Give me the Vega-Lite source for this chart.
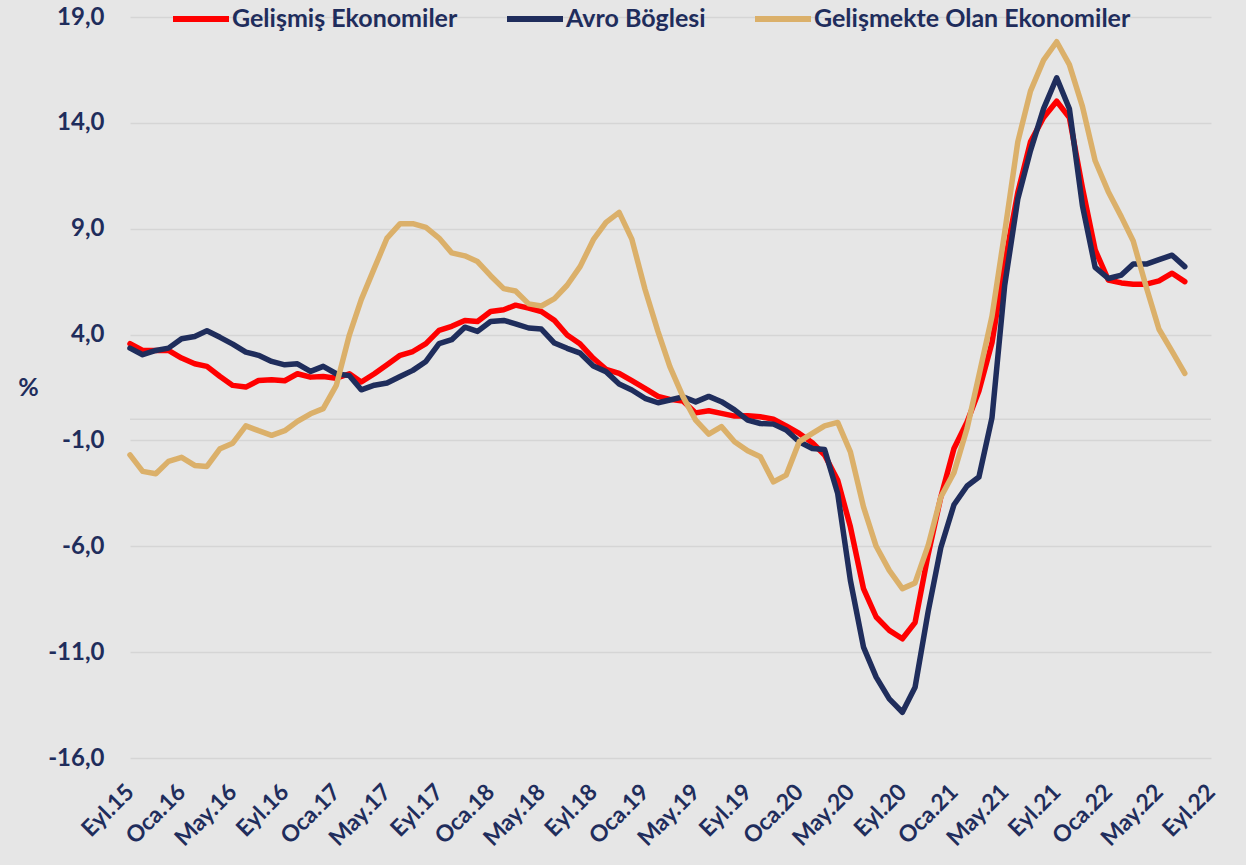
{
  "$schema": "https://vega.github.io/schema/vega-lite/v6.json",
  "autosize": {"type": "none"},
  "padding": {"left": 130, "top": 17, "right": 35, "bottom": 107},
  "width": 1081,
  "height": 741,
  "background": "#e6e6e6",
  "config": {
    "view": {"stroke": null},
    "font": "Lato"
  },
  "layer": [
    {
      "data": {"values": [{"z": 0}]},
      "mark": {"type": "rule", "color": "#d5d5d5", "strokeWidth": 1.5},
      "encoding": {"y": {"field": "z", "type": "quantitative", "scale": {"domain": [-16, 19], "nice": false, "zero": false}}}
    },
    {
      "data": {
        "values": [
          {"d": "2015-09-01", "g": 3.57, "a": 3.36, "e": -1.68},
          {"d": "2015-10-01", "g": 3.25, "a": 3.05, "e": -2.46},
          {"d": "2015-11-01", "g": 3.25, "a": 3.25, "e": -2.57},
          {"d": "2015-12-01", "g": 3.25, "a": 3.36, "e": -1.99},
          {"d": "2016-01-01", "g": 2.89, "a": 3.80, "e": -1.80},
          {"d": "2016-02-01", "g": 2.62, "a": 3.91, "e": -2.18},
          {"d": "2016-03-01", "g": 2.50, "a": 4.18, "e": -2.23},
          {"d": "2016-04-01", "g": 2.02, "a": 3.87, "e": -1.39},
          {"d": "2016-05-01", "g": 1.60, "a": 3.55, "e": -1.13},
          {"d": "2016-06-01", "g": 1.52, "a": 3.17, "e": -0.31},
          {"d": "2016-07-01", "g": 1.83, "a": 3.02, "e": -0.54},
          {"d": "2016-08-01", "g": 1.87, "a": 2.73, "e": -0.76},
          {"d": "2016-09-01", "g": 1.82, "a": 2.57, "e": -0.54},
          {"d": "2016-10-01", "g": 2.15, "a": 2.62, "e": -0.10},
          {"d": "2016-11-01", "g": 1.99, "a": 2.26, "e": 0.26},
          {"d": "2016-12-01", "g": 2.02, "a": 2.50, "e": 0.50},
          {"d": "2017-01-01", "g": 1.94, "a": 2.15, "e": 1.60},
          {"d": "2017-02-01", "g": 2.15, "a": 2.06, "e": 3.99},
          {"d": "2017-03-01", "g": 1.76, "a": 1.39, "e": 5.65},
          {"d": "2017-04-01", "g": 2.15, "a": 1.61, "e": 7.14},
          {"d": "2017-05-01", "g": 2.57, "a": 1.71, "e": 8.56},
          {"d": "2017-06-01", "g": 3.02, "a": 2.02, "e": 9.24},
          {"d": "2017-07-01", "g": 3.20, "a": 2.31, "e": 9.24},
          {"d": "2017-08-01", "g": 3.57, "a": 2.73, "e": 9.06},
          {"d": "2017-09-01", "g": 4.20, "a": 3.57, "e": 8.56},
          {"d": "2017-10-01", "g": 4.39, "a": 3.76, "e": 7.86},
          {"d": "2017-11-01", "g": 4.67, "a": 4.35, "e": 7.72},
          {"d": "2017-12-01", "g": 4.62, "a": 4.15, "e": 7.45},
          {"d": "2018-01-01", "g": 5.09, "a": 4.62, "e": 6.78},
          {"d": "2018-02-01", "g": 5.17, "a": 4.67, "e": 6.17},
          {"d": "2018-03-01", "g": 5.39, "a": 4.51, "e": 6.06},
          {"d": "2018-04-01", "g": 5.25, "a": 4.31, "e": 5.45},
          {"d": "2018-05-01", "g": 5.09, "a": 4.26, "e": 5.35},
          {"d": "2018-06-01", "g": 4.67, "a": 3.60, "e": 5.70},
          {"d": "2018-07-01", "g": 3.98, "a": 3.35, "e": 6.33},
          {"d": "2018-08-01", "g": 3.55, "a": 3.12, "e": 7.22},
          {"d": "2018-09-01", "g": 2.88, "a": 2.52, "e": 8.48},
          {"d": "2018-10-01", "g": 2.36, "a": 2.25, "e": 9.30},
          {"d": "2018-11-01", "g": 2.17, "a": 1.67, "e": 9.77},
          {"d": "2018-12-01", "g": 1.82, "a": 1.38, "e": 8.51},
          {"d": "2019-01-01", "g": 1.46, "a": 0.99, "e": 6.15},
          {"d": "2019-02-01", "g": 1.08, "a": 0.78, "e": 4.14},
          {"d": "2019-03-01", "g": 0.94, "a": 0.91, "e": 2.49},
          {"d": "2019-04-01", "g": 0.86, "a": 1.06, "e": 1.07},
          {"d": "2019-05-01", "g": 0.30, "a": 0.82, "e": -0.04},
          {"d": "2019-06-01", "g": 0.40, "a": 1.08, "e": -0.70},
          {"d": "2019-07-01", "g": 0.28, "a": 0.83, "e": -0.35},
          {"d": "2019-08-01", "g": 0.15, "a": 0.44, "e": -1.06},
          {"d": "2019-09-01", "g": 0.17, "a": -0.04, "e": -1.49},
          {"d": "2019-10-01", "g": 0.12, "a": -0.20, "e": -1.77},
          {"d": "2019-11-01", "g": 0.00, "a": -0.23, "e": -2.96},
          {"d": "2019-12-01", "g": -0.31, "a": -0.51, "e": -2.64},
          {"d": "2020-01-01", "g": -0.67, "a": -1.06, "e": -1.06},
          {"d": "2020-02-01", "g": -1.11, "a": -1.38, "e": -0.67},
          {"d": "2020-03-01", "g": -1.69, "a": -1.43, "e": -0.31},
          {"d": "2020-04-01", "g": -2.88, "a": -3.51, "e": -0.15},
          {"d": "2020-05-01", "g": -5.08, "a": -7.61, "e": -1.54},
          {"d": "2020-06-01", "g": -8.00, "a": -10.76, "e": -4.14},
          {"d": "2020-07-01", "g": -9.34, "a": -12.18, "e": -6.00},
          {"d": "2020-08-01", "g": -9.97, "a": -13.21, "e": -7.14},
          {"d": "2020-09-01", "g": -10.37, "a": -13.84, "e": -8.00},
          {"d": "2020-10-01", "g": -9.60, "a": -12.66, "e": -7.73},
          {"d": "2020-11-01", "g": -6.38, "a": -9.08, "e": -5.96},
          {"d": "2020-12-01", "g": -3.67, "a": -6.06, "e": -3.67},
          {"d": "2021-01-01", "g": -1.38, "a": -4.04, "e": -2.52},
          {"d": "2021-02-01", "g": -0.13, "a": -3.15, "e": -0.44},
          {"d": "2021-03-01", "g": 1.33, "a": -2.73, "e": 2.06},
          {"d": "2021-04-01", "g": 3.62, "a": 0.08, "e": 4.87},
          {"d": "2021-05-01", "g": 7.37, "a": 6.33, "e": 8.83},
          {"d": "2021-06-01", "g": 10.71, "a": 10.40, "e": 13.10},
          {"d": "2021-07-01", "g": 13.10, "a": 12.69, "e": 15.50},
          {"d": "2021-08-01", "g": 14.25, "a": 14.67, "e": 16.96},
          {"d": "2021-09-01", "g": 15.02, "a": 16.13, "e": 17.83},
          {"d": "2021-10-01", "g": 14.25, "a": 14.67, "e": 16.75},
          {"d": "2021-11-01", "g": 10.92, "a": 10.08, "e": 14.77},
          {"d": "2021-12-01", "g": 8.00, "a": 7.17, "e": 12.21},
          {"d": "2022-01-01", "g": 6.58, "a": 6.65, "e": 10.75},
          {"d": "2022-02-01", "g": 6.44, "a": 6.81, "e": 9.56},
          {"d": "2022-03-01", "g": 6.38, "a": 7.33, "e": 8.42},
          {"d": "2022-04-01", "g": 6.38, "a": 7.33, "e": 6.23},
          {"d": "2022-05-01", "g": 6.54, "a": 7.54, "e": 4.25},
          {"d": "2022-06-01", "g": 6.90, "a": 7.75, "e": 3.21},
          {"d": "2022-07-01", "g": 6.50, "a": 7.21, "e": 2.17}
        ]
      },
      "transform": [{"fold": ["g", "a", "e"], "as": ["key", "val"]}],
      "mark": {"type": "line", "strokeWidth": 5.5, "strokeCap": "round", "strokeJoin": "round"},
      "encoding": {
        "x": {
          "field": "d",
          "type": "temporal",
          "scale": {
            "type": "utc",
            "domain": [{"year": 2015, "month": 9, "date": 1, "utc": true}, {"year": 2022, "month": 9, "date": 1, "utc": true}],
            "nice": false
          },
          "axis": {
            "title": null,
            "grid": false,
            "domain": false,
            "ticks": false,
            "tickCount": {"interval": "month", "step": 4},
            "labelAngle": -45,
            "labelAlign": "right",
            "labelBaseline": "middle",
            "labelPadding": 30,
            "labelFont": "Lato",
            "labelFontSize": 23,
            "labelFontWeight": "bold",
            "labelColor": "#1f2d5c",
            "labelOverlap": false,
            "labelFlush": false,
            "labelBound": false,
            "labelExpr": "['Oca','Şub','Mar','Nis','May','Haz','Tem','Ağu','Eyl','Eki','Kas','Ara'][utcmonth(datum.value)] + '.' + utcFormat(datum.value, '%y')"
          }
        },
        "y": {
          "field": "val",
          "type": "quantitative",
          "scale": {"domain": [-16, 19], "nice": false, "zero": false},
          "axis": {
            "values": [-16, -11, -6, -1, 4, 9, 14, 19],
            "grid": true,
            "gridColor": "#d5d5d5",
            "gridWidth": 1.5,
            "domain": false,
            "ticks": false,
            "labelPadding": 26,
            "labelFont": "Lato",
            "labelFontSize": 24,
            "labelFontWeight": "bold",
            "labelColor": "#1f2d5c",
            "labelExpr": "(datum.value < 0 ? '-' : '') + replace(format(abs(datum.value), '.1f'), '.', ',')",
            "title": "%",
            "titleAngle": 0,
            "titleX": -102,
            "titleY": 370,
            "titleAlign": "center",
            "titleBaseline": "middle",
            "titleFont": "Lato",
            "titleFontSize": 25,
            "titleFontWeight": "bold",
            "titleColor": "#1f2d5c"
          }
        },
        "color": {
          "field": "key",
          "type": "nominal",
          "scale": {"domain": ["g", "a", "e"], "range": ["#ff0000", "#1f2d5c", "#dbb06a"]},
          "legend": {
            "orient": "none",
            "legendX": 40,
            "legendY": -29,
            "padding": 0,
            "direction": "horizontal",
            "title": null,
            "symbolType": "stroke",
            "symbolSize": 3136,
            "symbolStrokeWidth": 6,
            "labelFont": "Lato",
            "labelFontSize": 25,
            "labelFontWeight": "bold",
            "labelColor": "#1f2d5c",
            "labelOffset": 0,
            "columnPadding": 37,
            "labelLimit": 0,
            "labelExpr": "datum.label == 'g' ? 'Gelişmiş Ekonomiler' : datum.label == 'a' ? 'Avro Böglesi' : 'Gelişmekte Olan Ekonomiler'"
          }
        }
      }
    }
  ]
}
